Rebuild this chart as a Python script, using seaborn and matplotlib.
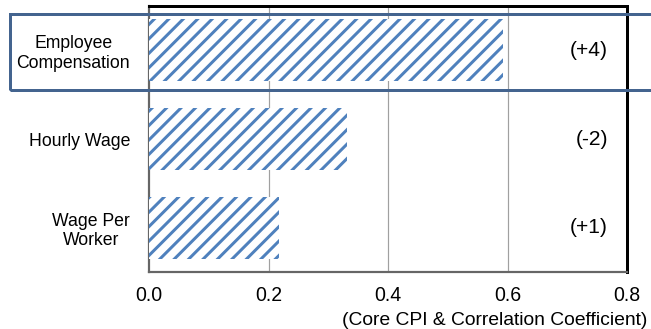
import matplotlib
matplotlib.use("Agg")
import matplotlib.pyplot as plt
import matplotlib.patches as mpatches
import seaborn as sns
import pandas as pd

categories = ["Employee\nCompensation", "Hourly Wage", "Wage Per\nWorker"]
values = [0.593, 0.331, 0.218]
changes = ["(+4)", "(-2)", "(+1)"]
x_ticks = [0.0, 0.2, 0.4, 0.6, 0.8]
x_label = "(Core CPI & Correlation Coefficient)"

DPI = 130
W, H = 651, 329
PX = 72 / DPI  # points per pixel

sns.set_theme(style="white")
plt.rcParams["font.family"] = ["Liberation Sans", "DejaVu Sans"]
plt.rcParams["hatch.color"] = "#4f81bd"
plt.rcParams["hatch.linewidth"] = 3.0 * PX
plt.rcParams["text.color"] = "black"
plt.rcParams["xtick.color"] = "black"
plt.rcParams["ytick.color"] = "black"

df = pd.DataFrame({"cat": categories, "val": values})

fig = plt.figure(figsize=(W / DPI + 0.001, H / DPI + 0.001), dpi=DPI)
ax = fig.add_axes([149 / W, 1 - 272 / H, (627 - 149) / W, (272 - 6) / H])

sns.barplot(data=df, y="cat", x="val", orient="h", ax=ax, color="white",
            width=0.7, edgecolor="none", saturation=1, zorder=3)
for p in ax.patches:
    p.set_hatch("///")
    p.set_facecolor("white")
    p.set_edgecolor("#4f81bd")
    p.set_linewidth(0)

ax.set_xlim(0, 0.8)
ax.set_ylim(2.5, -0.5)
ax.set_xticks(x_ticks)
ax.set_xticklabels([f"{t:.1f}" for t in x_ticks], fontsize=19.5 * PX)
ax.set_yticks(range(len(categories)))
ax.set_yticklabels(categories, fontsize=17.6 * PX, multialignment="center")
ax.tick_params(axis="y", length=0, pad=19 * PX, labelcolor="black")
ax.set_yticks([0.5, 1.5], minor=True)
ax.tick_params(axis="y", which="minor", length=5 * PX, color="#808080", width=1.2 * PX)
ax.tick_params(axis="x", length=5 * PX, color="#808080", width=1.5 * PX, pad=9 * PX,
               labelcolor="black")
ax.set_xlabel("")
ax.set_ylabel("")

for t in x_ticks[1:-1]:
    ax.axvline(t, color="#a0a0a0", lw=1.2 * PX, zorder=1)

for s in ["top", "right"]:
    ax.spines[s].set_color("black")
    ax.spines[s].set_linewidth(3 * PX)
for s in ["left", "bottom"]:
    ax.spines[s].set_color("#666666")
    ax.spines[s].set_linewidth(2.2 * PX)

for i, c in enumerate(changes):
    ax.text(0.768, i, c, ha="right", va="center", fontsize=21 * PX, color="black", zorder=5)

fig.text(647 / W, 1 - 325 / H, x_label, ha="right", va="baseline", fontsize=19.3 * PX,
         color="black")

rect = mpatches.Rectangle((10 / W, 1 - 90 / H), 700 / W, 76 / H, transform=fig.transFigure,
                          fill=False, edgecolor="#44648f", linewidth=3 * PX, zorder=10)
fig.patches.append(rect)

fig.savefig("out.png", dpi=DPI)
